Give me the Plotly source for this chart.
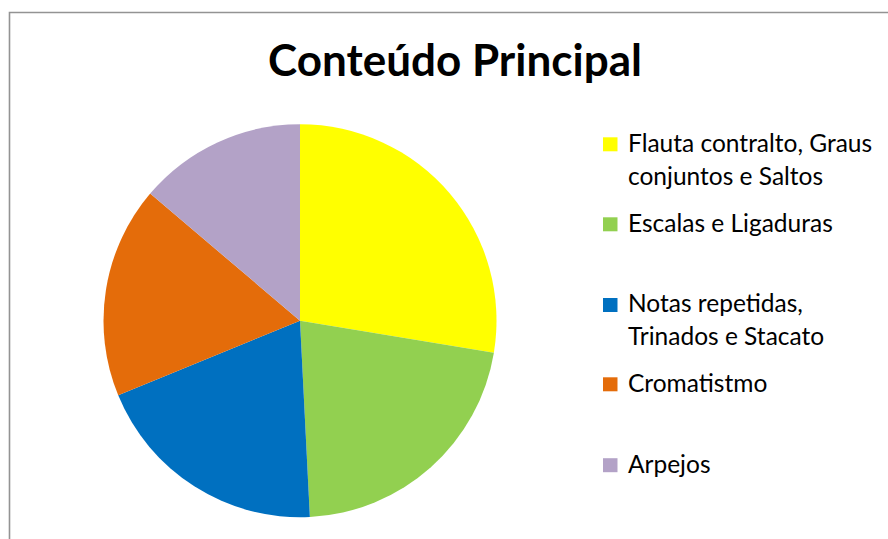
import plotly.graph_objects as go

# ---- data ----
labels = [
    "Flauta contralto, Graus<br>conjuntos e Saltos",
    "Escalas e Ligaduras",
    "Notas repetidas,<br>Trinados e Stacato",
    "Cromatistmo",
    "Arpejos",
]
values = [27.6, 21.6, 19.6, 17.4, 13.8]
colors = ["#FFFF00", "#92D050", "#0070C0", "#E46C0A", "#B3A2C7"]
title_text = "Conteúdo Principal"

W, H = 888, 539
FONT = "Lato, Calibri, Carlito, sans-serif"

fig = go.Figure()
fig.add_trace(go.Pie(
    labels=labels,
    values=values,
    marker=dict(colors=colors, line=dict(width=0)),
    sort=False,
    direction="clockwise",
    rotation=0,
    textinfo="none",
    hoverinfo="label+percent",
    showlegend=False,
    domain=dict(x=[103.5 / W, 496.5 / W], y=[21.8 / H, 414.8 / H]),
))

# Legend drawn as shapes + annotations (Excel-style spacing)
first_line_y = [144.5, 224.5, 304.5, 384.5, 465]
square_y = [144.3, 224.3, 305, 384.3, 465.2]
line_gap = 32.7
annotations = []
shapes = []
for lab, col, y0, sy in zip(labels, colors, first_line_y, square_y):
    shapes.append(dict(type="rect", xref="paper", yref="paper",
                       x0=603 / W, x1=617.5 / W,
                       y0=1 - (sy + 7) / H, y1=1 - (sy - 7) / H,
                       fillcolor=col, line=dict(width=0)))
    for i, line in enumerate(lab.split("<br>")):
        annotations.append(dict(
            text=line, xref="paper", yref="paper",
            x=626 / W, y=1 - (y0 - 2 + i * line_gap) / H,
            xanchor="left", yanchor="middle", showarrow=False,
            font=dict(family=FONT, size=24.5, color="#000000"),
        ))

# chart border
shapes.append(dict(type="rect", xref="paper", yref="paper",
                   x0=9.5 / W, x1=1.01, y0=-0.01, y1=1 - 12.5 / H,
                   line=dict(color="#939393", width=1.6), fillcolor="rgba(0,0,0,0)",
                   layer="above"))

fig.update_layout(
    width=W, height=H,
    margin=dict(l=0, r=0, t=0, b=0),
    paper_bgcolor="white",
    plot_bgcolor="white",
    title=dict(text="<b>" + title_text + "</b>", x=455 / W, xanchor="center",
               y=1 - 61 / H, yanchor="middle", yref="paper",
               font=dict(family=FONT, size=44, color="#000000")),
    annotations=annotations,
    shapes=shapes,
)

fig.write_html("out.html", config={"displayModeBar": False},
               post_script="document.body.style.margin='0';document.body.style.padding='0';")
